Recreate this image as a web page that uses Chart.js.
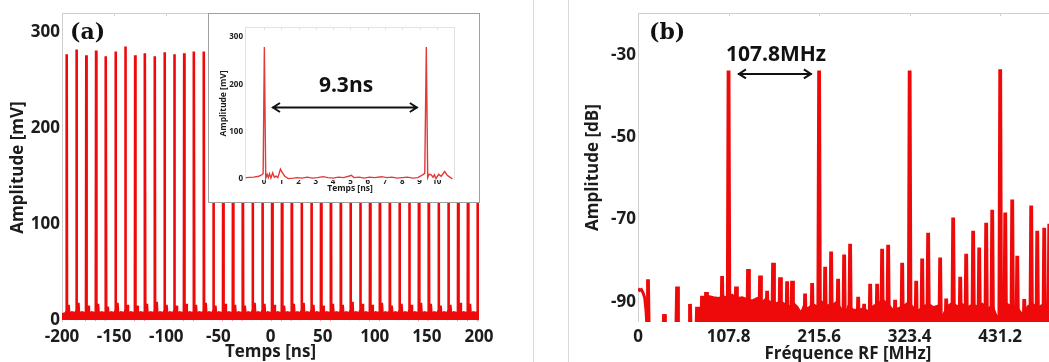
<!DOCTYPE html>
<html>
<head>
<meta charset="utf-8">
<script src="https://cdn.jsdelivr.net/npm/chart.js"></script>
<style>
	body { margin: 0; width: 1049px; height: 362px; overflow: hidden; background: #fff; position: relative; }
	.box { position: absolute; }
	.vline { position: absolute; top: 0; width: 1px; height: 362px; background: #dadada; }
	.lbl { position: absolute; color: #111; white-space: nowrap; line-height: 1; }
	.panel { font-family: "DejaVu Serif", serif; font-weight: bold; font-size: 22px; }
	.note { font-family: "Open Sans", sans-serif; font-weight: bold; font-size: 21px; transform: translateX(-50%); }
	#inset { left: 208px; top: 13px; width: 270px; height: 188px; border: 1px solid #a0a0a0; background: #fff; }
</style>
</head>
<body>
<div class="box" style="left:0;top:0"><canvas id="chartA" width="520" height="362"></canvas></div>
<div class="vline" style="left:533px"></div>
<div class="vline" style="left:568px"></div>
<div class="box" style="left:575px;top:0"><canvas id="chartB" width="483" height="362"></canvas></div>
<div class="box" id="inset"><canvas id="chartI" width="270" height="188"></canvas></div>
<div class="lbl panel" style="left:70px;top:20px">(a)</div>
<div class="lbl panel" style="left:649px;top:20px">(b)</div>
<div class="lbl note" style="left:346px;top:74px">9.3ns</div>
<div class="lbl note" style="left:776px;top:43px">107.8MHz</div>
<script>
// (a) pulse train
const xTicksA = [-200, -150, -100, -50, 0, 50, 100, 150, 200];
const yTicksA = [0, 100, 200, 300];
const pulseTimes = [-195.5, -186.1, -176.7, -167.3, -157.9, -148.6, -139.2, -129.8, -120.4, -111.0,
	-101.6, -92.2, -82.8, -73.4, -64.0, -54.7, -45.3, -35.9, -26.5, -17.1, -7.7, 1.7, 11.1, 20.5,
	29.9, 39.3, 48.6, 58.0, 67.4, 76.8, 86.2, 95.6, 105.0, 114.4, 123.8, 133.2, 142.5, 151.9, 161.3,
	170.7, 180.1, 189.5, 198.9];
const pulseHeights = [277, 282, 276, 281, 275, 280, 285, 276, 278, 275, 279, 277, 278, 280, 280,
	279, 277, 281, 278, 276, 280, 278, 282, 277, 279, 276, 280, 278, 281, 277, 279, 278, 280, 276,
	279, 281, 277, 278, 280, 279, 277, 278, 280];
const echoHeights = [16, 18, 15, 17, 14, 18, 16, 15, 17, 19, 16, 15, 17, 16, 18, 15, 17, 16, 15, 18,
	17, 16, 15, 17, 18, 16, 15, 17, 16, 19, 17, 16, 18, 15, 17, 16, 18, 17, 15, 16, 18, 17, 16];

// (a) inset, zoom on two pulses
const insetXTicks = [0, 1, 2, 3, 4, 5, 6, 7, 8, 9, 10];
const insetYTicks = [0, 100, 200, 300];
const insetTimes = [-1.05, -0.6, -0.3, -0.12, -0.05, 0.02, 0.1, 0.18, 0.25, 0.32, 0.4, 0.5, 0.6, 0.7,
	0.8, 0.95, 1.05, 1.2, 1.4, 1.7, 1.9, 2.2, 2.5, 2.8, 3.1, 3.4, 3.7, 4.0, 4.3, 4.6, 4.9, 5.05, 5.2,
	5.5, 5.8, 6.1, 6.4, 6.8, 7.1, 7.4, 7.7, 8.0, 8.3, 8.6, 8.9, 9.1, 9.22, 9.3, 9.39, 9.47, 9.55, 9.67,
	9.78, 9.86, 9.95, 10.1, 10.25, 10.45, 10.6, 10.75, 10.9];
const insetValues = [3, 4, 6, 9, 12, 279, 2, 10, 3, 11, 2, 13, 4, 6, 3, 21, 14, 6, 1, 2, 3, 2, 4, 2, 3,
	5, 3, 2, 4, 3, 6, 8, 3, 4, 2, 4, 3, 5, 3, 4, 2, 3, 4, 2, 3, 7, 10, 12, 279, 3, 10, 9, 4, 9, 1, 10,
	6, 16, 8, 4, 0];

// (b) RF spectrum
const xTicksB = [0, 107.8, 215.6, 323.4, 431.2];
const yTicksB = [-30, -50, -70, -90];
const spikeFreqs = [11.9, 31.0, 46.5, 61.9, 70.3, 76.2, 81.0, 100.1, 107.8, 116.7, 131.0, 145.3, 153.7,
	160.8, 169.1, 177.5, 183.4, 198.9, 207.3, 215.6, 222.8, 229.9, 238.2, 245.4, 252.5, 262.1, 269.2,
	276.4, 284.7, 290.6, 297.8, 306.1, 314.5, 323.4, 331.2, 338.3, 345.4, 359.7, 366.9, 375.2, 383.6,
	390.7, 399.0, 406.2, 414.5, 421.7, 431.2, 437.2, 445.5, 451.5, 459.8, 468.1, 475.3, 483.6, 489.6];
const spikeLevels = [-84.5, -93, -86.3, -90.5, -91.2, -88.5, -87.6, -83.7, -33.8, -86.3, -82, -83.6, -87.3,
	-80.5, -84, -85, -84.9, -88, -85.4, -33.8, -81.5, -77.8, -84.4, -78.5, -75.9, -88.8, -90.5,
	-85.6, -85.6, -77.1, -76.1, -89.5, -80.5, -33.8, -84.9, -79.5, -73.2, -79.2, -89.2, -69.5, -83.9,
	-78.3, -72.7, -76.8, -70.8, -67.6, -33.5, -68.3, -65.1, -78.8, -89.3, -66.6, -72.7, -72, -71];
const leadFreqs = [0, 2, 4, 6, 8, 9.5, 11];
const leadLevels = [-86.8, -87.2, -87, -87.8, -89, -92, -97];
const floorFreqs = [72, 75, 78, 84, 90, 96, 102, 106, 112, 118, 124, 130, 136,
	142, 148, 152, 158, 164, 170, 175, 180, 186, 190, 194, 197, 202, 208, 213, 218, 224, 230, 236, 242,
	246, 250, 256, 262, 268, 274, 280, 286, 292, 298, 304, 310, 316, 322, 328, 334, 340, 346, 352, 358,
	362, 368, 374, 380, 386, 392, 398, 404, 410, 416, 422, 428, 434, 440, 446, 452, 458, 464, 470, 476,
	482, 488, 494, 500];
const floorLevels = [-100, -91, -89, -88.5, -88.8, -89, -88.6,
	-89, -88.2, -89, -88.8, -89.3, -89.6, -89, -90, -89.2, -90, -90.3, -89.8, -90.5, -91, -90.4, -91.2,
	-92.5, -91, -91.5, -90.5, -91, -89.8, -90.6, -91, -90, -91.6, -93.5, -91, -91.8, -92, -91.5, -92.2,
	-91, -90.2, -89.6, -90.5, -92, -91.5, -91, -90, -91.3, -92, -91, -90.5, -91.2, -90.8, -93.5, -91,
	-90.2, -91, -90.5, -91.3, -90.6, -91, -90.4, -91.6, -90.8, -93.8, -91, -90.5, -91.2, -91.5, -93,
	-91, -90.5, -91.3, -90.6, -91, -90.8, -91];

const RED = "#ee0a0a";
const INK = "#1c1c1c";
const FONT = "'Open Sans', sans-serif";

// light frame round the plot area, with short ticks on the top edge
const framePlugin = {
	id: "frame",
	beforeDatasetsDraw(chart, args, opts) {
		if (!opts.sides) return;
		const { ctx, chartArea: a } = chart;
		ctx.save();
		ctx.strokeStyle = opts.color || "#cfcfcf";
		ctx.lineWidth = 1;
		ctx.beginPath();
		if (opts.sides.includes("t")) { ctx.moveTo(a.left, a.top + 0.5); ctx.lineTo(a.right, a.top + 0.5); }
		if (opts.sides.includes("r")) { ctx.moveTo(a.right - 0.5, a.top); ctx.lineTo(a.right - 0.5, a.bottom); }
		if (opts.sides.includes("l")) { ctx.moveTo(a.left + 0.5, a.top); ctx.lineTo(a.left + 0.5, a.bottom); }
		if (opts.sides.includes("b")) { ctx.moveTo(a.left, a.bottom - 0.5); ctx.lineTo(a.right, a.bottom - 0.5); }
		const xs = chart.scales.x;
		xs.ticks.forEach((t) => {
			const px = Math.round(xs.getPixelForValue(t.value)) + 0.5;
			ctx.moveTo(px, a.top);
			ctx.lineTo(px, a.top + 3);
		});
		ctx.stroke();
		ctx.restore();
	}
};

// double headed arrows given in data units
const arrowPlugin = {
	id: "arrows",
	afterDatasetsDraw(chart, args, opts) {
		if (!opts.items) return;
		const { ctx } = chart;
		const xs = chart.scales.x, ys = chart.scales.y;
		ctx.save();
		ctx.strokeStyle = "#111";
		ctx.lineWidth = 2;
		opts.items.forEach((it) => {
			const x0 = xs.getPixelForValue(it.from);
			const x1 = xs.getPixelForValue(it.to);
			const y = ys.getPixelForValue(it.at);
			ctx.beginPath();
			ctx.moveTo(x0, y); ctx.lineTo(x1, y);
			ctx.moveTo(x0 + 8, y - 4.5); ctx.lineTo(x0 + 1, y); ctx.lineTo(x0 + 8, y + 4.5);
			ctx.moveTo(x1 - 8, y - 4.5); ctx.lineTo(x1 - 1, y); ctx.lineTo(x1 - 8, y + 4.5);
			ctx.stroke();
		});
		ctx.restore();
	}
};

function tickSetter(list) {
	return function (scale) {
		scale.ticks = list.map((v) => ({ value: v }));
	};
}

function axisFont(size, weight) {
	return { family: FONT, size: size, weight: weight || "bold", lineHeight: 1.2 };
}

// --- panel (a) data
function pulseTrace() {
	const pts = [{ x: -200, y: 6 }];
	pulseTimes.forEach((t, i) => {
		pts.push({ x: t - 0.8, y: 7 });
		pts.push({ x: t - 0.3, y: 9 });
		pts.push({ x: t, y: pulseHeights[i] });
		pts.push({ x: t + 0.3, y: 5 });
		pts.push({ x: t + 1.1, y: 7 });
		pts.push({ x: t + 1.8, y: echoHeights[i] });
		pts.push({ x: t + 2.5, y: 6 });
		pts.push({ x: t + 5, y: 8 });
	});
	pts.push({ x: 200, y: 6 });
	return pts.filter((p) => p.x >= -200 && p.x <= 200);
}

new Chart(document.getElementById("chartA"), {
	type: "line",
	data: {
		datasets: [{
			data: pulseTrace(),
			borderColor: RED,
			backgroundColor: RED,
			borderWidth: 2.6,
			pointRadius: 0,
			tension: 0,
			fill: "origin"
		}]
	},
	plugins: [framePlugin],
	options: {
		responsive: false,
		animation: false,
		events: [],
		layout: { padding: { top: 13, right: 41, left: 0, bottom: 0 } },
		plugins: { legend: { display: false }, tooltip: { enabled: false }, frame: { sides: "trl" } },
		scales: {
			x: {
				type: "linear", min: -200, max: 200,
				afterBuildTicks: tickSetter(xTicksA),
				afterFit: (s) => { s.height = 40; },
				grid: { display: false, drawTicks: false }, border: { display: false },
				ticks: { color: INK, font: axisFont(17), padding: 5, maxRotation: 0, callback: (v) => String(v) },
				title: { display: true, text: "Temps [ns]", color: INK, font: axisFont(17), padding: { top: 0, bottom: 0 } }
			},
			y: {
				min: -2, max: 320,
				afterBuildTicks: tickSetter(yTicksA),
				afterFit: (s) => { s.width = 62; },
				grid: { display: false, drawTicks: false }, border: { display: false },
				ticks: { color: INK, font: axisFont(17), padding: 2, callback: (v) => String(v) },
				title: { display: true, text: "Amplitude [mV]", color: INK, font: axisFont(17), padding: { top: 8, bottom: 0 } }
			}
		}
	}
});

// --- inset
new Chart(document.getElementById("chartI"), {
	type: "line",
	data: {
		datasets: [{
			data: insetTimes.map((t, i) => ({ x: t, y: insetValues[i] })),
			borderColor: "#e23a3a",
			borderWidth: 1.4,
			pointRadius: 0,
			tension: 0,
			clip: false
		}]
	},
	plugins: [framePlugin, arrowPlugin],
	options: {
		responsive: false,
		animation: false,
		events: [],
		layout: { padding: { top: 13, right: 24, left: 0, bottom: 0 } },
		plugins: {
			legend: { display: false }, tooltip: { enabled: false },
			frame: { sides: "trl", color: "#e2e2e2" },
			arrows: { items: [{ from: 0.46, to: 8.9, at: 151 }] }
		},
		scales: {
			x: {
				type: "linear", min: -1.1, max: 11.05,
				afterBuildTicks: tickSetter(insetXTicks),
				afterFit: (s) => { s.height = 22; },
				grid: { display: false, drawTicks: false }, border: { display: false },
				ticks: { color: INK, font: axisFont(8), padding: -3, maxRotation: 0, callback: (v) => String(v) },
				title: { display: true, text: "Temps [ns]", color: INK, font: axisFont(8.5), padding: { top: 0, bottom: 8 } }
			},
			y: {
				min: -2, max: 321,
				afterBuildTicks: tickSetter(insetYTicks),
				afterFit: (s) => { s.width = 36; },
				grid: { display: false, drawTicks: false }, border: { display: false },
				ticks: { color: INK, font: axisFont(8), padding: 2, callback: (v) => String(v) },
				title: { display: true, text: "Amplitude [mV]", color: INK, font: axisFont(8.5), padding: { top: 9, bottom: 0 } }
			}
		}
	}
});

// --- panel (b)
function spikeTrace() {
	const pts = [];
	spikeFreqs.forEach((f, i) => {
		pts.push({ x: f - 1.1, y: -100 });
		pts.push({ x: f, y: spikeLevels[i] });
		pts.push({ x: f + 1.1, y: -100 });
	});
	return pts;
}

new Chart(document.getElementById("chartB"), {
	type: "line",
	data: {
		datasets: [{
			data: floorFreqs.map((f, i) => ({ x: f, y: floorLevels[i] })),
			borderColor: RED,
			backgroundColor: RED,
			borderWidth: 1.5,
			pointRadius: 0,
			tension: 0,
			fill: "start"
		}, {
			data: leadFreqs.map((f, i) => ({ x: f, y: leadLevels[i] })),
			borderColor: RED,
			borderWidth: 3,
			pointRadius: 0,
			tension: 0,
			fill: false
		}, {
			data: spikeTrace(),
			borderColor: RED,
			borderWidth: 3.8,
			pointRadius: 0,
			tension: 0,
			borderJoinStyle: "bevel",
			fill: false
		}]
	},
	plugins: [framePlugin, arrowPlugin],
	options: {
		responsive: false,
		animation: false,
		events: [],
		layout: { padding: { top: 13, right: 0, left: 0, bottom: 0 } },
		plugins: {
			legend: { display: false }, tooltip: { enabled: false },
			frame: { sides: "tl" },
			arrows: { items: [{ from: 119, to: 207, at: -34.6 }] }
		},
		scales: {
			x: {
				type: "linear", min: 0, max: 500,
				afterBuildTicks: tickSetter(xTicksB),
				afterFit: (s) => { s.height = 40; },
				grid: { display: false, drawTicks: false }, border: { display: false },
				ticks: { color: INK, font: axisFont(17), padding: 5, maxRotation: 0, callback: (v) => String(v) },
				title: { display: true, text: "Fréquence RF [MHz]", color: INK, font: axisFont(17), padding: { top: 0, bottom: -2 } }
			},
			y: {
				min: -94.9, max: -19.8,
				afterBuildTicks: tickSetter(yTicksB),
				afterFit: (s) => { s.width = 63; },
				grid: { display: false, drawTicks: false }, border: { display: false },
				ticks: { color: INK, font: axisFont(17), padding: 2, callback: (v) => String(v) },
				title: { display: true, text: "Amplitude [dB]", color: INK, font: axisFont(17), padding: { top: 8, bottom: 0 } }
			}
		}
	}
});
</script>
</body>
</html>
